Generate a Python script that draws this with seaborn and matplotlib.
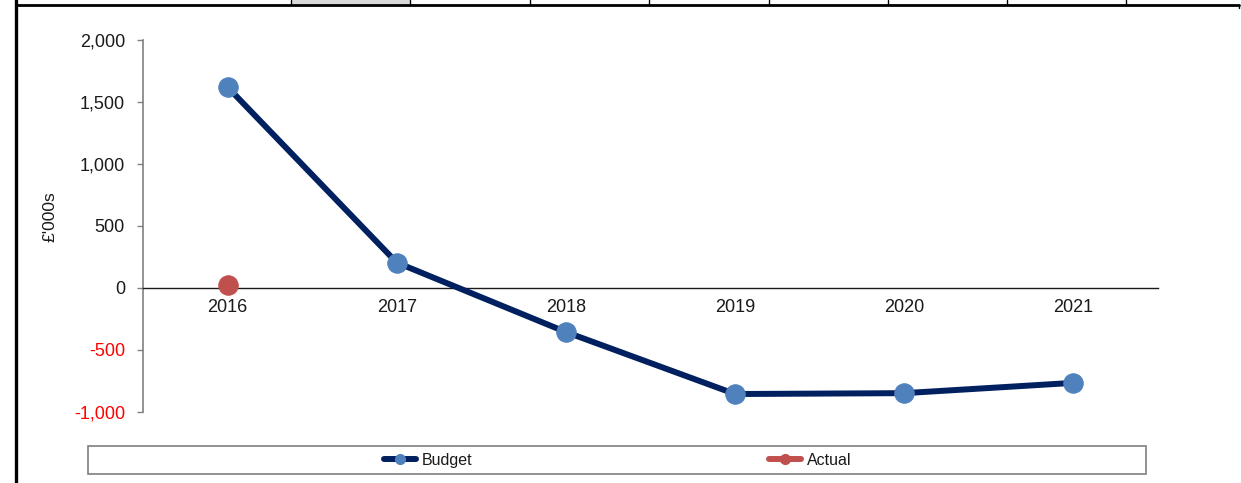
import matplotlib
matplotlib.use("Agg")
import matplotlib.pyplot as plt
import seaborn as sns
import numpy as np
from matplotlib.lines import Line2D
from matplotlib.patches import Rectangle
from matplotlib.ticker import FuncFormatter

# data
years = ["2016", "2017", "2018", "2019", "2020", "2021"]
budget = [1620, 205, -355, -855, -848, -765]
actual = [25, np.nan, np.nan, np.nan, np.nan, np.nan]
y_ticks = [-1000, -500, 0, 500, 1000, 1500, 2000]

NAVY = "#002060"
BLUE = "#4F81BD"
RED = "#C0504D"

sns.set_style("white")
plt.rcParams["font.family"] = ["Liberation Sans", "DejaVu Sans"]

W, H = 1241, 483
fig = plt.figure(figsize=(W / 100, H / 100), dpi=100)
ax = fig.add_axes([143 / W, 71 / H, 1015 / W, 372 / H])

pos = np.arange(len(years)) + 0.5

sns.lineplot(x=pos, y=budget, ax=ax, color=NAVY, linewidth=4.3, marker="o",
             markersize=14, markerfacecolor=BLUE, markeredgecolor=BLUE, zorder=3)
sns.lineplot(x=pos, y=actual, ax=ax, color=RED, linewidth=4.3, marker="o",
             markersize=14, markerfacecolor=RED, markeredgecolor=RED, zorder=3)

ax.set_xlim(0, len(years))
ax.set_ylim(y_ticks[0], y_ticks[-1])

# category labels centred, tick marks on boundaries
ax.set_xticks(pos)
ax.set_xticklabels(years)
ax.set_xticks(np.arange(len(years) + 1), minor=True)
ax.tick_params(axis="x", which="major", length=0, pad=8, labelsize=13, labelcolor="#1a1a1a")
ax.tick_params(axis="x", which="minor", length=4, width=1, color="#1a1a1a", direction="out")

ax.set_yticks(y_ticks)
ax.yaxis.set_major_formatter(FuncFormatter(lambda v, p: f"{v:,.0f}"))
ax.tick_params(axis="y", length=4, width=1, color="#808080", direction="out",
               pad=9, labelsize=13, left=True)
for lab, v in zip(ax.get_yticklabels(), y_ticks):
    lab.set_color("#FF0000" if v < 0 else "#1a1a1a")

for side in ["top", "right"]:
    ax.spines[side].set_visible(False)
ax.spines["left"].set_color("#808080")
ax.spines["left"].set_linewidth(1.2)
ax.spines["bottom"].set_position(("data", 0))
ax.spines["bottom"].set_color("#1a1a1a")
ax.spines["bottom"].set_linewidth(1.0)

fig.text(50 / W, 1 - 217 / H, "£'000s", rotation=90, ha="center", va="center",
         fontsize=12.5, color="#1a1a1a")

# legend box: handles from legends, labels on a shared baseline
fig.patches.append(Rectangle((88 / W, 1 - 474 / H), (1146 - 88) / W, 28 / H,
                             transform=fig.transFigure, facecolor="white",
                             edgecolor="#7f7f7f", linewidth=1.2))
series = [("Budget", NAVY, BLUE, 384), ("Actual", RED, RED, 769)]
for name, line_c, dot_c, x0 in series:
    h = Line2D([], [], color=line_c, linewidth=4.3, marker="o", markersize=7,
               markerfacecolor=dot_c, markeredgecolor=dot_c)
    fig.legend([h], [""], loc="center left",
               bbox_to_anchor=(x0 / W, 1 - 460 / H), frameon=False,
               handlelength=2.3, handletextpad=0, numpoints=1,
               borderaxespad=0, borderpad=0)
    fig.text((x0 + 38) / W, 1 - 465 / H, name, ha="left", va="baseline",
             fontsize=11.5, color="#1a1a1a")

# surrounding sheet borders
fig.add_artist(Line2D([15.5 / W, 15.5 / W], [1 / H, 1], transform=fig.transFigure,
                      color="black", linewidth=2.4))
fig.add_artist(Line2D([15.5 / W, 1239 / W], [1 - 4.5 / H, 1 - 4.5 / H],
                      transform=fig.transFigure, color="black", linewidth=2.0))
fig.add_artist(Line2D([1239 / W, 1239 / W], [1 - 4.5 / H, 1 - 8 / H],
                      transform=fig.transFigure, color="black", linewidth=1.0))
fig.patches.append(Rectangle((291 / W, 1 - 3.5 / H), 119 / W, 3.5 / H,
                             transform=fig.transFigure, facecolor="#d9d9d9",
                             edgecolor="none"))
for xd in [291, 410, 530, 649, 769, 888, 1007, 1126]:
    fig.add_artist(Line2D([xd / W, xd / W], [1 - 4.5 / H, 1], transform=fig.transFigure,
                          color="black", linewidth=1.0))

fig.savefig("out.png", dpi=100)
